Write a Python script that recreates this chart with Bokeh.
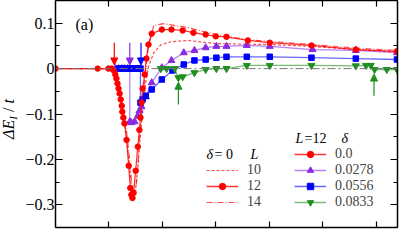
from bokeh.plotting import figure
from bokeh.layouts import row
from bokeh.models import (LinearAxis, FixedTicker, Span, Label, Legend, LegendItem,
                          Arrow, NormalHead, CustomJSTickFormatter, Div)
from bokeh.embed import file_html
from bokeh.resources import INLINE

# ---------------- data ----------------
# delta = 0, L = 10 (dashed)
x_L10 = [0.00, 1.03, 1.09, 1.14, 1.20, 1.25, 1.31, 1.37, 1.42, 1.46, 1.50, 1.54, 1.57,
         1.61, 1.65, 1.69, 1.74, 1.84, 1.97, 2.15, 2.49, 3.00, 3.99, 4.79, 5.62, 6.39]
y_L10 = [0, 0, -0.004, -0.020, -0.050, -0.090, -0.130, -0.200, -0.260, -0.275, -0.262,
         -0.220, -0.170, -0.120, -0.070, -0.030, 0.005, 0.035, 0.052, 0.059, 0.062,
         0.055, 0.053, 0.049, 0.042, 0.036]
# delta = 0, L = 12 (solid with circles)
x_L12 = [0.00, 0.79, 0.99, 1.05, 1.09, 1.12, 1.14, 1.16, 1.18, 1.20, 1.22, 1.24, 1.25,
         1.27, 1.29, 1.33, 1.37, 1.40, 1.42, 1.44, 1.46, 1.50, 1.54, 1.57, 1.59, 1.61,
         1.63, 1.67, 1.70, 1.74, 1.80, 1.99, 2.17, 2.38, 2.58, 2.81, 3.00, 3.20, 3.60,
         4.01, 4.79, 5.62, 6.39]
y_L12 = [0, 0, 0, 0, -0.004, -0.013, -0.022, -0.033, -0.044, -0.055, -0.068, -0.082,
         -0.095, -0.108, -0.121, -0.157, -0.214, -0.263, -0.278, -0.285, -0.274, -0.225,
         -0.172, -0.135, -0.108, -0.075, -0.044, -0.013, 0.022, 0.053, 0.077, 0.086,
         0.086, 0.084, 0.079, 0.075, 0.071, 0.070, 0.062, 0.057, 0.051, 0.042, 0.038]
# delta = 0, L = 14 (dash-dot)
x_L14 = [0.00, 1.03, 1.09, 1.14, 1.20, 1.25, 1.31, 1.37, 1.42, 1.46, 1.50, 1.54, 1.57,
         1.61, 1.65, 1.69, 1.74, 1.84, 2.02, 2.49, 3.00, 3.58, 3.99, 4.79, 5.62, 6.39]
y_L14 = [0, 0, -0.003, -0.015, -0.040, -0.080, -0.120, -0.180, -0.245, -0.280, -0.270,
         -0.220, -0.160, -0.100, -0.050, 0.000, 0.050, 0.095, 0.099, 0.090, 0.075,
         0.064, 0.060, 0.053, 0.045, 0.040]
# L = 12, delta = 0.0278 (triangles)
x_d1 = [1.12, 1.18, 1.24, 1.29, 1.35, 1.39, 1.39, 1.42, 1.48, 1.54, 1.57, 1.61, 1.69,
        1.80, 1.99, 2.17, 2.40, 2.60, 2.81, 3.01, 3.20, 3.58, 4.01, 4.81, 5.62, 6.39]
y_d1 = [0, 0, 0, 0, 0, 0, -0.117, -0.119, -0.117, -0.104, -0.093, -0.084, -0.062,
        -0.031, 0.002, 0.018, 0.035, 0.040, 0.046, 0.049, 0.049, 0.051, 0.049, 0.042,
        0.040, 0.035]
# L = 12, delta = 0.0556 (squares)
x_d2 = [1.18, 1.22, 1.25, 1.29, 1.33, 1.37, 1.40, 1.44, 1.48, 1.52, 1.55, 1.59, 1.59,
        1.63, 1.69, 1.80, 1.99, 2.19, 2.40, 2.60, 2.81, 3.01, 3.20, 3.58, 4.01, 4.79,
        5.62, 6.39]
y_d2 = [0, 0, 0, 0, 0, 0, 0, 0, 0, 0, 0, 0, -0.075, -0.068, -0.060, -0.046, -0.024,
        -0.004, 0.009, 0.018, 0.020, 0.024, 0.026, 0.026, 0.026, 0.024, 0.022, 0.020]
# L = 12, delta = 0.0833 (inverted triangles)
x_d3 = [1.97, 2.08, 2.23, 2.30, 2.38, 2.60, 2.81, 3.01, 3.20, 3.58, 4.01, 4.79, 5.62,
        5.81, 5.90, 5.97, 6.20, 6.39]
y_d3 = [0, 0, 0, -0.020, -0.018, -0.009, -0.002, 0, 0, 0.007, 0.007, 0.007, 0.006,
        0.007, 0.007, -0.002, -0.002, -0.002]

# arrows marking transitions
arrow_x = [1.10, 1.39, 1.60, 2.30, 5.96]
arrow_y_from = [0.057, 0.057, 0.057, -0.079, -0.060]
arrow_y_to = [0.008, 0.008, 0.008, -0.030, -0.012]
arrow_colors = ["#ff0000", "#8a2be2", "#0000ff", "#1f8f1f", "#1f8f1f"]

y_ticks = [-0.3, -0.2, -0.1, 0.0, 0.1]
y_minor = [-0.35, -0.25, -0.15, -0.05, 0.05, 0.15]
x_ticks = [1, 2, 3, 4, 5, 6]

L_labels = ["10", "12", "14"]
d_labels = ["0.0", "0.0278", "0.0556", "0.0833"]

RED = "#ff0000"
PURPLE = "#8a2be2"
BLUE = "#0000ff"
GREEN = "#1f8f1f"
FONT = "Liberation Serif"

p = figure(frame_width=342, frame_height=227, x_range=(0, 6.4), y_range=(-0.35, 0.15),
           output_backend="svg", toolbar_location=None,
           x_axis_location=None, y_axis_location=None,
           min_border_left=27, min_border_right=3, min_border_top=0, min_border_bottom=3)
p.xgrid.visible = False
p.ygrid.visible = False
p.outline_line_color = None
p.background_fill_color = "white"
p.border_fill_color = "white"
p.margin = (0, 0, 0, 0)


def make_axis(kind, labels):
    ax = LinearAxis()
    if kind == "y":
        ax.ticker = FixedTicker(ticks=y_ticks, minor_ticks=y_minor)
        ax.minor_tick_in = 4
    else:
        ax.ticker = FixedTicker(ticks=x_ticks, minor_ticks=[])
        ax.minor_tick_in = 0
    ax.major_tick_in = 7 if kind == "y" else 6
    ax.major_tick_out = 0
    ax.minor_tick_out = 0
    ax.axis_line_width = 1.5
    ax.major_tick_line_width = 1.2
    ax.minor_tick_line_width = 1.2
    ax.major_label_text_font = FONT
    ax.major_label_text_color = "black"
    if labels:
        ax.major_label_text_font_size = "16px"
        ax.major_label_overrides = {0: "0"}
        ax.major_label_standoff = 1
    else:
        ax.formatter = CustomJSTickFormatter(code="return ''")
        ax.major_label_text_font_size = "0px"
        ax.major_label_standoff = 0
    return ax


p.add_layout(make_axis("y", True), "left")
p.add_layout(make_axis("y", False), "right")
p.add_layout(make_axis("x", False), "below")
p.add_layout(make_axis("x", False), "above")

# zero reference line
p.add_layout(Span(location=0, dimension="width", line_color="#777777",
                  line_dash="8 3 2 3", line_width=1))

r10 = p.line(x_L10, y_L10, line_color=RED, line_alpha=0.7, line_width=1.2, line_dash="3 2")
r14 = p.line(x_L14, y_L14, line_color=RED, line_alpha=0.7, line_width=1.2,
             line_dash="6 2 1 2")

r1l = p.line(x_d1, y_d1, line_color=PURPLE, line_alpha=0.6, line_width=1.3)
r1s = p.scatter(x_d1, y_d1, marker="triangle", size=7, color=PURPLE)
r2l = p.line(x_d2, y_d2, line_color=BLUE, line_alpha=0.6, line_width=1.3)
r2s = p.scatter(x_d2, y_d2, marker="square", size=5.5, color=BLUE)
r3l = p.line(x_d3, y_d3, line_color=GREEN, line_alpha=0.6, line_width=1.3)
r3s = p.scatter(x_d3, y_d3, marker="inverted_triangle", size=7, color=GREEN)
r12l = p.line(x_L12, y_L12, line_color=RED, line_alpha=0.8, line_width=1.3)
r12s = p.scatter(x_L12, y_L12, marker="circle", size=5.5, color=RED)

for xa, y0, y1, c in zip(arrow_x, arrow_y_from, arrow_y_to, arrow_colors):
    p.add_layout(Arrow(x_start=xa, y_start=y0, x_end=xa, y_end=y1, line_color=c,
                       line_width=1.2,
                       end=NormalHead(size=7, fill_color=c, line_color=c)))

# legends: one single-row legend per entry so that rows sit 16 px apart
LEG_FS = "14px"
leg_common = dict(border_line_color=None, background_fill_alpha=0, padding=0, margin=0,
                  spacing=0, glyph_width=32, glyph_height=16, label_height=16,
                  label_standoff=9, label_text_font=FONT, label_text_font_size=LEG_FS)
col1_items = [(L_labels[0], [r10]), (L_labels[1], [r12l, r12s]), (L_labels[2], [r14])]
col1_bottoms = [49, 33, 17]
for (lbl, rs), yb in zip(col1_items, col1_bottoms):
    p.add_layout(Legend(items=[LegendItem(label=lbl, renderers=rs)],
                        location=(151, yb), **leg_common))
col2_items = [(d_labels[0], [r12l, r12s]), (d_labels[1], [r1l, r1s]),
              (d_labels[2], [r2l, r2s]), (d_labels[3], [r3l, r3s])]
col2_bottoms = [65, 49, 33, 17]
for (lbl, rs), yb in zip(col2_items, col2_bottoms):
    p.add_layout(Legend(items=[LegendItem(label=lbl, renderers=rs)],
                        location=(239, yb), **leg_common))


def lab(x, y, text, style="normal", size=LEG_FS):
    p.add_layout(Label(x=x, y=y, x_units="screen", y_units="screen", text=text,
                       text_font=FONT, text_font_style=style, text_font_size=size,
                       text_baseline="middle", text_align="left", text_color="black"))


# legend headers
lab(151, 73, "δ", "italic")
lab(159, 73, "= 0")
lab(195, 73, "L", "italic")
lab(240, 89, "L", "italic")
lab(249, 89, "=12")
lab(286, 89, "δ", "italic")
# panel tag
lab(20, 203, "(a)", size="16px")

# rotated y-axis title with a real subscript
ytitle = Div(
    text=("<div style=\"position:absolute; left:-31px; top:110px; width:80px; "
          "height:18px; line-height:18px; text-align:center; transform:rotate(-90deg); "
          "white-space:nowrap; font-family:'Liberation Serif'; font-size:16px; "
          "color:black;\"><i>&Delta;E</i><sub style=\"font-size:11px; "
          "vertical-align:-3px;\"><i>I</i></sub>&nbsp;/&nbsp;<i>t</i></div>"),
    width=22, height=230, margin=(0, 0, 0, 0), styles={"overflow": "visible"})

layout = row(ytitle, p, spacing=0)
open("out.html", "w").write(file_html(layout, INLINE))
